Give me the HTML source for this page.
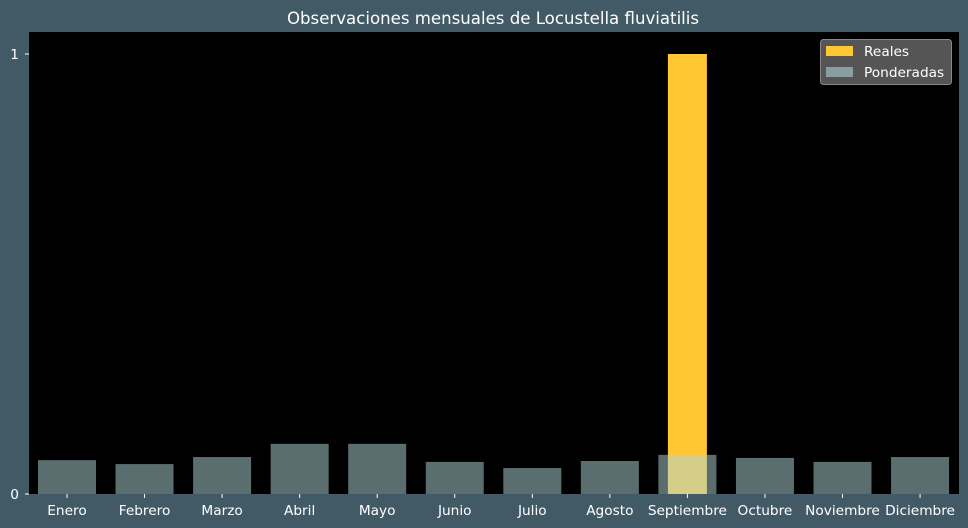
<!DOCTYPE html>
<html><head><meta charset="utf-8"><style>
body{margin:0;background:#425a66;}
svg{display:block;font-family:"DejaVu Sans","Liberation Sans",sans-serif;}
</style></head><body>
<svg id="chart" width="968" height="528">
<rect x="0" y="0" width="968" height="528" fill="#425a66"/>
<rect x="29" y="32" width="930" height="462" fill="#000"/>
<text x="493" y="24" fill="#fff" font-size="16.6" text-anchor="middle">Observaciones mensuales de Locustella fluviatilis</text>
<g id="bars"></g>
<g id="axes"></g>
<g>
<rect x="820.5" y="39.5" width="131" height="45" rx="3" fill="#555" stroke="#888"/>
<rect x="826" y="46" width="27" height="10" fill="#ffc832"/>
<text x="864" y="56" fill="#fff" font-size="13.7">Reales</text>
<rect x="826" y="67" width="27" height="10" fill="#8a9ea0"/>
<text x="864" y="77" fill="#fff" font-size="13.7">Ponderadas</text>
</g>
</svg>
<script>
const categories=["Enero","Febrero","Marzo","Abril","Mayo","Junio","Julio","Agosto","Septiembre","Octubre","Noviembre","Diciembre"];
const reales=[0,0,0,0,0,0,0,0,1,0,0,0];
const ponderadas=[0.077,0.068,0.084,0.114,0.114,0.073,0.059,0.075,0.089,0.082,0.073,0.084];
const yTicks=[0,1];
const NS="http://www.w3.org/2000/svg";
const x0=67,step=77.55;
function xs(i){return x0+i*step;}
function ys(v){return 494-v*440;}
const bars=document.getElementById('bars'),axes=document.getElementById('axes');
function mk(tag,attrs,parent){const e=document.createElementNS(NS,tag);for(const k in attrs)e.setAttribute(k,attrs[k]);parent.appendChild(e);return e;}
categories.forEach((c,i)=>{
  if(reales[i]>0){
    const r=mk('rect',{x:xs(i)-19.5,y:ys(reales[i]),width:39,height:494-ys(reales[i]),fill:'#ffc832'},bars);
    
    
  }
});
categories.forEach((c,i)=>{
  const r=mk('rect',{x:xs(i)-29,y:ys(ponderadas[i]),width:58,height:494-ys(ponderadas[i]),fill:'rgba(173,210,215,0.52)'},bars);
  
  
  const t=mk('text',{x:xs(i),y:515,fill:'#fff','font-size':13.7,'text-anchor':'middle'},axes);
  t.textContent=c;
  
  
  const tk=mk('line',{x1:xs(i),x2:xs(i),y1:494,y2:498,stroke:'#fff'},axes);
  
  
});
yTicks.forEach(v=>{
  const t=mk('text',{x:19,y:ys(v)+5,fill:'#fff','font-size':13.7,'text-anchor':'end'},axes);
  t.textContent=v;
  
  
  const tk=mk('line',{x1:25,x2:29,y1:ys(v),y2:ys(v),stroke:'#fff'},axes);
  
  
});
</script>
</body></html>
